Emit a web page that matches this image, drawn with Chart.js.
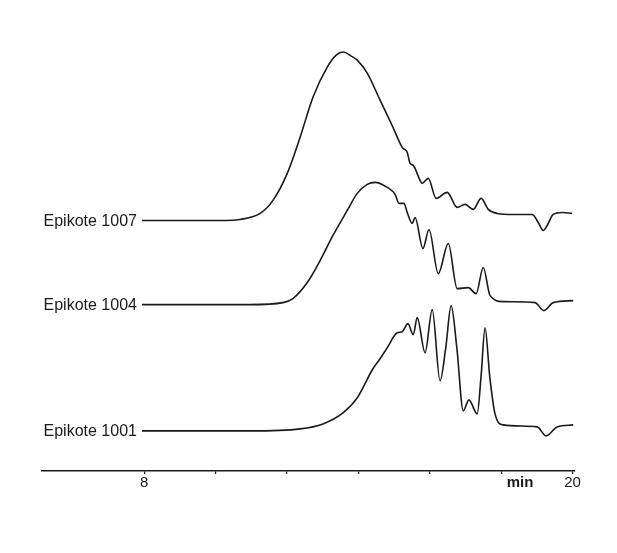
<!DOCTYPE html>
<html>
<head>
<meta charset="utf-8">
<script src="https://cdn.jsdelivr.net/npm/chart.js@4.4.1/dist/chart.umd.min.js"></script>
<style>
html,body{margin:0;padding:0;background:#fff;}
#wrap{width:617px;height:553px;position:relative;}
</style>
</head>
<body>
<div id="wrap"><canvas id="c"></canvas></div>
<script>
// Retention time (min) and detector response (arbitrary units, relative to each trace's baseline)
const seriesNames = ['Epikote 1007', 'Epikote 1004', 'Epikote 1001'];
const baselineOffsets = [250, 166, 40];

const t1007 = [7.94, 9.5, 10.3, 10.69, 11.25, 11.61, 12.01, 12.37, 12.73, 13.13, 13.38, 13.58, 13.80, 13.97, 14.25, 14.61, 14.97, 15.17, 15.25, 15.37, 15.45, 15.54, 15.73, 15.79, 15.96, 16.18, 16.49, 16.77, 16.99, 17.22, 17.44, 17.64, 17.89, 18.34, 18.87, 19.04, 19.18, 19.29, 19.46, 19.71, 19.99];
const h1007 = [0, 0, 0, 1, 7, 20, 47, 83, 123, 153, 165, 168, 164, 160, 147, 120, 93, 77, 72, 68, 57, 55, 40, 37, 42, 22, 28, 13, 16, 11, 22, 11, 7, 6, 6, -2, -10, -5, 6, 8, 7];

const t1004 = [7.94, 10.97, 11.89, 12.17, 12.57, 12.93, 13.29, 13.69, 13.97, 14.25, 14.47, 14.81, 15.03, 15.14, 15.28, 15.37, 15.51, 15.59, 15.81, 15.98, 16.24, 16.52, 16.77, 17.08, 17.30, 17.50, 17.69, 18.06, 18.95, 19.20, 19.46, 20.02];
const h1004 = [0, 0, 2, 6, 22, 44, 69, 94, 111, 120, 122, 117, 110, 101, 101, 92, 81, 87, 56, 75, 31, 61, 16, 17, 11, 37, 9, 3, 2, -6, 2, 4];

const t1001 = [7.94, 10.97, 12.37, 13.01, 13.57, 13.97, 14.41, 14.61, 14.81, 15.09, 15.23, 15.39, 15.54, 15.65, 15.87, 16.07, 16.29, 16.45, 16.60, 16.76, 16.94, 17.10, 17.33, 17.44, 17.55, 17.68, 17.83, 18.06, 19.01, 19.26, 19.57, 20.02];
const h1001 = [0, 0, 2, 7, 18, 33, 62, 72, 83, 98, 99, 107, 96, 113, 78, 121, 50, 83, 125, 83, 20, 31, 17, 55, 103, 55, 17, 6, 4, -5, 4, 6];

const tickValues = [8, 10, 12, 14, 16, 18, 20];
const tickLabels = ['8', '', '', '', '', '', '20'];
const unitLabel = 'min';

const traces = [[t1007, h1007], [t1004, h1004], [t1001, h1001]];
const ink = '#1a1a1a';

const datasets = traces.map(([ts, hs], i) => ({
  label: seriesNames[i],
  data: ts.map((t, k) => ({x: t, y: baselineOffsets[i] + hs[k]})),
  borderColor: ink,
  borderWidth: 1.6,
  pointRadius: 0,
  fill: false,
  cubicInterpolationMode: 'monotone'
}));

const labelPlugin = {
  id: 'traceLabels',
  afterDatasetsDraw(chart) {
    const ctx = chart.ctx;
    const xs = chart.scales.x, ys = chart.scales.y;
    ctx.save();
    ctx.fillStyle = ink;
    ctx.font = '16px "Liberation Sans", Arial, sans-serif';
    ctx.textAlign = 'right';
    ctx.textBaseline = 'middle';
    chart.data.datasets.forEach(ds => {
      const p = ds.data[0];
      ctx.fillText(ds.label, xs.getPixelForValue(p.x) - 5, ys.getPixelForValue(p.y) + 1);
    });
    ctx.font = 'bold 15px "Liberation Sans", Arial, sans-serif';
    ctx.textAlign = 'center';
    ctx.textBaseline = 'middle';
    ctx.fillText(unitLabel, xs.getPixelForValue(18) + 19, xs.top + 12);
    ctx.restore();
  }
};

new Chart(document.getElementById('c'), {
  type: 'line',
  data: {datasets},
  options: {
    responsive: true,
    maintainAspectRatio: false,
    animation: false,
    layout: {padding: {left: 42, right: 42, top: 20, bottom: 61}},
    plugins: {legend: {display: false}, tooltip: {enabled: false}},
    scales: {
      x: {
        type: 'linear',
        min: 5.14,
        max: 20.07,
        afterBuildTicks: (scale) => { scale.ticks = tickValues.map(v => ({value: v})); },
        ticks: {
          autoSkip: false,
          maxRotation: 0,
          padding: 0,
          color: ink,
          font: {family: '"Liberation Sans", Arial, sans-serif', size: 15},
          callback: (v) => { const i = tickValues.indexOf(v); return i >= 0 ? tickLabels[i] : ''; }
        },
        grid: {drawOnChartArea: false, drawTicks: true, tickLength: 3, color: ink, lineWidth: 1.2},
        border: {display: true, color: ink, width: 1.5}
      },
      y: {
        type: 'linear',
        display: false,
        min: 0,
        max: 450
      }
    }
  },
  plugins: [labelPlugin]
});
</script>
</body>
</html>
